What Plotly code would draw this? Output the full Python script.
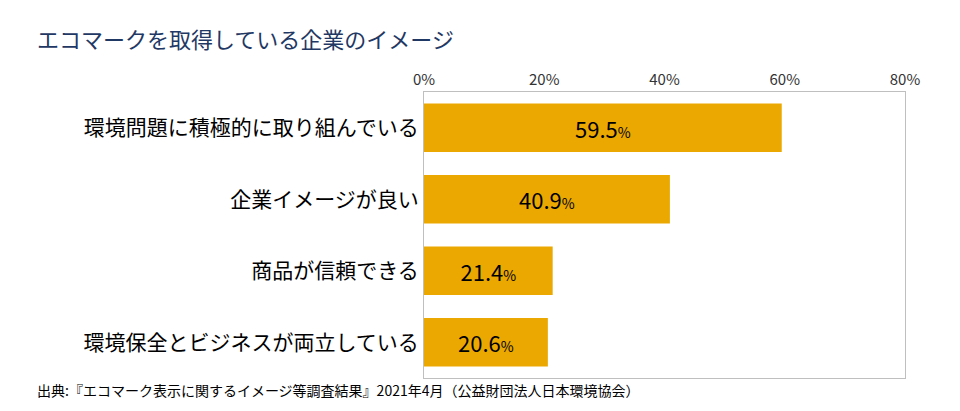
import plotly.graph_objects as go

categories = ["環境問題に積極的に取り組んでいる", "企業イメージが良い", "商品が信頼できる", "環境保全とビジネスが両立している"]
values = [59.5, 40.9, 21.4, 20.6]
tick_vals = [0, 20, 40, 60, 80]
tick_text = ["0%", "20%", "40%", "60%", "80%"]

font = "Noto Sans CJK JP"

fig = go.Figure(go.Bar(
    x=values,
    y=categories,
    orientation="h",
    marker=dict(color="#EBA800", line=dict(width=0)),
    width=0.68,
    text=[f"{v}<span style='font-size:14px'>%</span>" for v in values],
    textposition="inside",
    insidetextanchor="middle",
    textfont=dict(size=22, color="black", family=font),
    hoverinfo="skip",
))

# page body adds an 8px offset, so the figure is drawn slightly smaller
fig.update_layout(
    width=952, height=403,
    margin=dict(l=416, r=55, t=84, b=33),
    plot_bgcolor="white", paper_bgcolor="white",
    showlegend=False,
    font=dict(family=font),
    xaxis=dict(
        side="top", range=[0, 80], tickvals=tick_vals, ticktext=tick_text,
        showgrid=False, zeroline=False, showline=True, mirror=True,
        linecolor="#BFBFBF", linewidth=1, ticks="",
        tickfont=dict(size=15, color="#333333"),
    ),
    yaxis=dict(
        autorange="reversed", showline=True, mirror=True,
        linecolor="#BFBFBF", linewidth=1, ticks="", ticklen=0,
        tickfont=dict(size=21, color="black"),
    ),
    annotations=[
        dict(text="エコマークを取得している企業のイメージ", xref="paper", yref="paper",
             x=(27 - 416) / 481, y=1 + 54 / 286, xanchor="left", yanchor="middle",
             showarrow=False, font=dict(size=22, color="#1F3864", family=font)),
        dict(text="出典:『エコマーク表示に関するイメージ等調査結果』2021年4月（公益財団法人日本環境協会）",
             xref="paper", yref="paper", x=(27 - 416) / 481, y=-12 / 286,
             xanchor="left", yanchor="middle", showarrow=False,
             font=dict(size=14, color="black", family=font)),
    ],
)

fig.write_html("out.html")
